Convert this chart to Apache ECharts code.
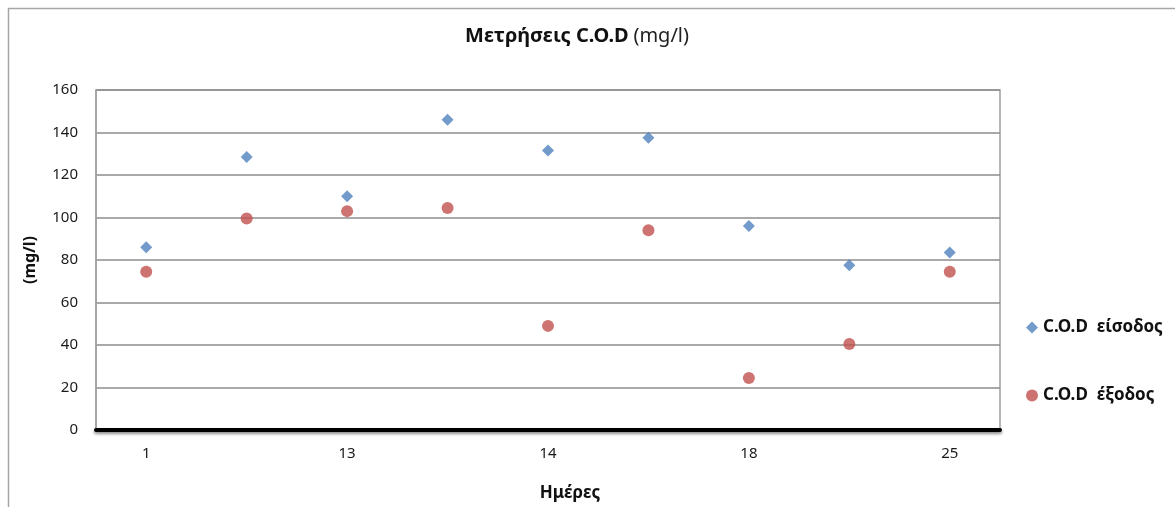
<!DOCTYPE html>
<html><head><meta charset="utf-8">
<script src="https://cdn.jsdelivr.net/npm/echarts@6/dist/echarts.min.js"></script>
<style>html,body{margin:0;padding:0;background:#fff}#c{width:1175px;height:507px}</style>
</head><body><div id="c"></div>
<script>
const categories = ['1', '', '13', '', '14', '', '18', '', '25'];
const codIn = [86, 128.5, 110, 146, 131.5, 137.5, 96, 77.5, 83.5];
const codOut = [74.5, 99.5, 103, 104.5, 49, 94, 24.5, 40.5, 74.5];
const yTicks = [0, 20, 40, 60, 80, 100, 120, 140, 160];

const font = 'Noto Sans';
const chart = echarts.init(document.getElementById('c'));
chart.setOption({
  animation: false,
  textStyle: { fontFamily: font },
  graphic: [
    { type: 'line', shape: { x1: 8, y1: 8.5, x2: 1175, y2: 8.5 }, style: { stroke: '#a6a6a6', lineWidth: 1.5 } },
    { type: 'line', shape: { x1: 8.5, y1: 8, x2: 8.5, y2: 507 }, style: { stroke: '#a6a6a6', lineWidth: 1.5 } }
  ],
  title: {
    text: '{b|Μετρήσεις C.O.D} {n|(mg/l)}',
    left: 572, top: 21, textAlign: 'center',
    textStyle: { fontWeight: 'normal', rich: {
      b: { fontFamily: font, fontSize: 20, fontWeight: 'bold', color: '#111' },
      n: { fontFamily: font, fontSize: 20, fontWeight: 'normal', color: '#222' }
    } }
  },
  legend: {
    orient: 'vertical', left: 1021, top: 314, itemGap: 51,
    itemWidth: 12, itemHeight: 12,
    textStyle: { fontFamily: font, fontSize: 17, fontWeight: 'bold', color: '#111' },
    data: [{ name: 'C.O.D  είσοδος', icon: 'diamond' }, { name: 'C.O.D  έξοδος', icon: 'circle' }]
  },
  grid: { left: 96, right: 175, top: 90, bottom: 76, show: true, borderColor: '#a0a0a0', borderWidth: 1.5 },
  xAxis: {
    type: 'category', data: categories,
    name: 'Ημέρες', nameLocation: 'middle', nameGap: 55,
    nameTextStyle: { fontFamily: font, fontSize: 17, fontWeight: 'bold', color: '#111', padding: [0, 0, 0, 44] },
    axisLine: { lineStyle: { color: '#000', width: 4, shadowColor: 'rgba(0,0,0,0.45)', shadowBlur: 3, shadowOffsetY: 2 } },
    axisTick: { show: false },
    axisLabel: { interval: 0, margin: 16, fontFamily: font, fontSize: 15, color: '#1a1a1a' },
    splitLine: { show: false }
  },
  yAxis: {
    type: 'value', min: yTicks[0], max: yTicks[yTicks.length - 1], interval: 20,
    name: '(mg/l)', nameLocation: 'middle', nameGap: 58, nameRotate: 90,
    nameTextStyle: { fontFamily: font, fontSize: 16, fontWeight: 'bold', color: '#111' },
    axisLine: { show: true, lineStyle: { color: '#a0a0a0', width: 1.5 } },
    axisTick: { show: false },
    axisLabel: { margin: 18, fontFamily: font, fontSize: 15, color: '#1a1a1a' },
    splitLine: { lineStyle: { color: '#8c8c8c', width: 1.5 } }
  },
  series: [
    { name: 'C.O.D  είσοδος', type: 'scatter', symbol: 'diamond', symbolSize: 12, data: codIn,
      itemStyle: { color: '#4F81BD' } },
    { name: 'C.O.D  έξοδος', type: 'scatter', symbol: 'circle', symbolSize: 12, data: codOut,
      itemStyle: { color: '#C0504D' } }
  ]
});
</script></body></html>
